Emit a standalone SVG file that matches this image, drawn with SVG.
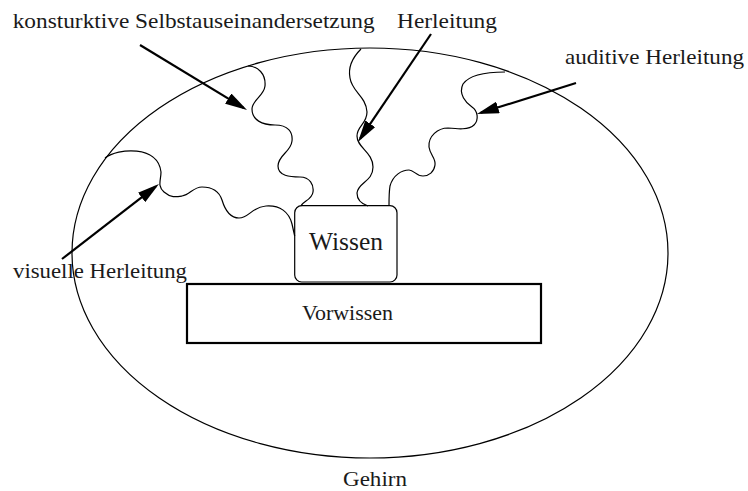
<svg xmlns="http://www.w3.org/2000/svg" width="748" height="491" viewBox="0 0 748 491">
<style>
text{font-family:"Liberation Serif","Times New Roman",serif;fill:#1a1a1a;font-size:21px}
.thin{fill:none;stroke:#000;stroke-width:1.2}
.arrow{fill:none;stroke:#000;stroke-width:2.2;marker-end:url(#ah)}
</style>
<defs>
<marker id="ah" markerUnits="userSpaceOnUse" markerWidth="24" markerHeight="12" refX="18" refY="6" orient="auto">
<path d="M0,0 L22,6 L0,12 z" fill="#000"/>
</marker>
</defs>
<rect width="748" height="491" fill="#fff"/>
<g id="gehirn">
<ellipse class="thin" cx="370" cy="253" rx="298" ry="205"/>
<text x="375" y="486" text-anchor="middle" textLength="64" lengthAdjust="spacingAndGlyphs">Gehirn</text>
</g>
<g id="vorwissen">
<rect x="187" y="284" width="354" height="59" fill="#fff" stroke="#000" stroke-width="2.2"/>
<text x="347.5" y="320" text-anchor="middle" textLength="91" lengthAdjust="spacingAndGlyphs">Vorwissen</text>
</g>
<g id="wissen">
<rect x="294.7" y="205.7" width="102.3" height="76.3" rx="7" class="thin" fill="#fff"/>
<text x="346" y="250" text-anchor="middle" font-size="25" textLength="74" lengthAdjust="spacingAndGlyphs" style="font-size:25px">Wissen</text>
</g>
<g id="waves">
<path class="thin" d="M105,158 C118,148 158,145 161,172 C161,180 157,186 164,192 S176,197 182,196 C190,195 193,187 202,187 C212,187 219,191 222,200 C225,210 230,218 239,218 C249,218 252,207 266,206 C280,205 289,212 292,224 L294.7,236"/>
<path class="thin" d="M248,66 C258,66 266,74 265,86 C264,96 252,100 252,109 C252,120 262,125 275,125 C288,125 293,132 292,141 C291,152 278,155 278,166 C278,176 290,177 300,177 C310,177 314,185 313,192 C312,200 303,201 301,206"/>
<path class="thin" d="M361,49 C352,58 348,68 350,78 C352,92 366,96 367,112 C367,124 357,126 357,136 C357,148 373,152 373,167 C373,182 358,182 357,193 C357,200 362,204 368,206"/>
<path class="thin" d="M505,72 C490,72 470,74 463,84 C458,94 466,103 472,107 C478,111 479,120 474,125 C469,130 458,129 448,128 C438,128 428,136 429,147 C430,155 436,158 435,165 C434,172 429,176 423,176 C416,176 414,170 409,170 C402,170 393,175 390,186 C389,192 389,200 389,206"/>
</g>
<g id="connectors">
<line class="arrow" x1="140" y1="45" x2="243.6" y2="107.9"/>
<line class="arrow" x1="431" y1="34" x2="360.2" y2="138.7"/>
<line class="arrow" x1="576" y1="83" x2="480.8" y2="112.8"/>
<line class="arrow" x1="62" y1="259" x2="155.8" y2="186.4"/>
</g>
<g id="labels">
<text x="12.7" y="28" textLength="362" lengthAdjust="spacingAndGlyphs">konsturktive Selbstauseinandersetzung</text>
<text x="397" y="28" textLength="100" lengthAdjust="spacingAndGlyphs">Herleitung</text>
<text x="565" y="64" textLength="179" lengthAdjust="spacingAndGlyphs">auditive Herleitung</text>
<text x="13" y="278" textLength="174" lengthAdjust="spacingAndGlyphs">visuelle Herleitung</text>
</g>
</svg>
